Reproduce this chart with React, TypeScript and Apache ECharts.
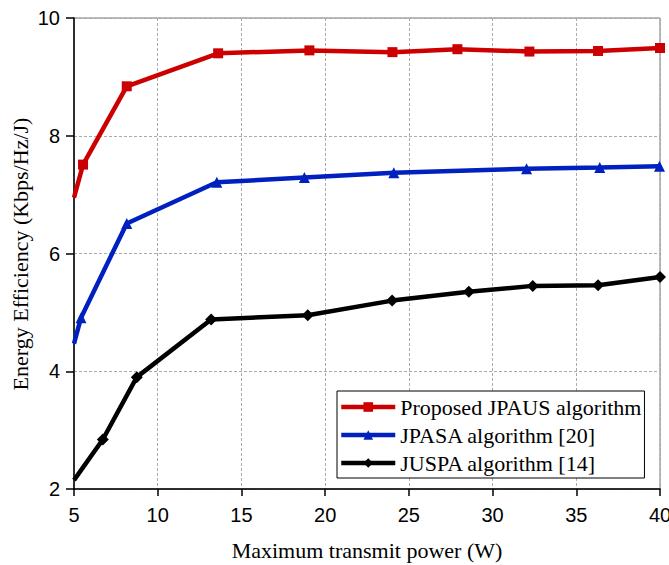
import React, { useEffect, useRef } from "react";
import * as echarts from "echarts";

const seriesNames = ["Proposed JPAUS algorithm", "JPASA algorithm [20]", "JUSPA algorithm [14]"];
const jpausX = [5, 5.54, 8.15, 13.61, 19.06, 24.02, 27.9, 32.2, 36.3, 40];
const jpausY = [6.95, 7.51, 8.84, 9.4, 9.45, 9.42, 9.47, 9.43, 9.44, 9.49];
const jpasaX = [5, 5.42, 8.15, 13.53, 18.76, 24.1, 32.03, 36.4, 39.97];
const jpasaY = [4.47, 4.91, 6.51, 7.21, 7.29, 7.37, 7.44, 7.46, 7.48];
const juspaX = [5, 6.72, 8.75, 13.19, 18.96, 24.0, 28.58, 32.4, 36.3, 40];
const juspaY = [2.15, 2.84, 3.9, 4.88, 4.95, 5.2, 5.35, 5.45, 5.46, 5.6];
const colors = ["#CC0000", "#0020C0", "#000000"];
const symbols = ["rect", "triangle", "diamond"];
const symbolSizes = [10, 11, 12];

function pairs(xs: number[], ys: number[]) {
  return xs.map((x, i) =>
    i === 0 ? { value: [x, ys[i]], symbol: "none" } : { value: [x, ys[i]] }
  );
}

const SERIF = "'Liberation Serif', 'Times New Roman', serif";
const SANS = "'Liberation Sans', Arial, sans-serif";

export default function App() {
  const ref = useRef<HTMLDivElement>(null);
  useEffect(() => {
    if (!ref.current) return;
    const chart = echarts.init(ref.current, undefined, { renderer: "svg" });
    const data = [pairs(jpausX, jpausY), pairs(jpasaX, jpasaY), pairs(juspaX, juspaY)];
    chart.setOption({
      animation: false,
      textStyle: { fontFamily: SERIF },
      grid: {
        left: 74,
        top: 18,
        right: 9,
        bottom: 76,
        containLabel: false,
        outerBoundsMode: "none",
        show: true,
        borderColor: "#777",
        borderWidth: 1,
      },
      xAxis: {
        type: "value",
        min: 5,
        max: 40,
        interval: 5,
        axisLine: { show: true, onZero: false, lineStyle: { color: "#000", width: 1.5 } },
        axisTick: { show: true, inside: false, length: 7, lineStyle: { color: "#000", width: 1.5 } },
        axisLabel: { color: "#000", fontSize: 20, fontFamily: SANS, margin: 16, hideOverlap: false },
        splitLine: { show: true, lineStyle: { color: "#aaa", type: [3, 2], width: 1 } },
      },
      yAxis: {
        type: "value",
        min: 2,
        max: 10,
        interval: 2,
        axisLine: { show: true, onZero: false, lineStyle: { color: "#000", width: 1.5 } },
        axisTick: { show: true, inside: false, length: 8, lineStyle: { color: "#000", width: 1.5 } },
        axisLabel: { color: "#000", fontSize: 20, fontFamily: SANS, margin: 14 },
        splitLine: { show: true, lineStyle: { color: "#aaa", type: [3, 2], width: 1 } },
      },
      legend: {
        orient: "vertical",
        left: 337,
        top: 391,
        align: "left",
        backgroundColor: "#fff",
        borderColor: "#000",
        borderWidth: 1,
        padding: [5, 3, 4, 2],
        itemWidth: 54,
        itemHeight: 12,
        itemGap: 6,
        lineStyle: { width: 4.5 },
        textStyle: { fontFamily: SERIF, fontSize: 22, color: "#000", lineHeight: 22 },
        data: seriesNames.map((n) => ({ name: n, textStyle: { fontFamily: SERIF, fontSize: 22 } })),
      },
      graphic: [
        {
          type: "text",
          x: 367,
          y: 550,
          style: {
            text: "Maximum transmit power (W)",
            fontFamily: SERIF,
            fontSize: 22,
            fill: "#000",
            textAlign: "center",
            textVerticalAlign: "middle",
          },
        },
        {
          type: "text",
          x: 20,
          y: 254,
          rotation: Math.PI / 2,
          style: {
            text: "Energy Efficiency (Kbps/Hz/J)",
            fontFamily: SERIF,
            fontSize: 22,
            fill: "#000",
            textAlign: "center",
            textVerticalAlign: "middle",
          },
        },
      ],
      series: seriesNames.map((name, i) => ({
        name,
        type: "line",
        data: data[i],
        symbol: symbols[i],
        symbolSize: symbolSizes[i],
        showAllSymbol: true,
        color: colors[i],
        lineStyle: { width: 4.5, color: colors[i] },
        itemStyle: { color: colors[i] },
        z: 5 - i,
      })),
    });
    return () => chart.dispose();
  }, []);
  return <div ref={ref} style={{ width: 669, height: 565, position: "absolute", left: 0, top: 0 }} />;
}
